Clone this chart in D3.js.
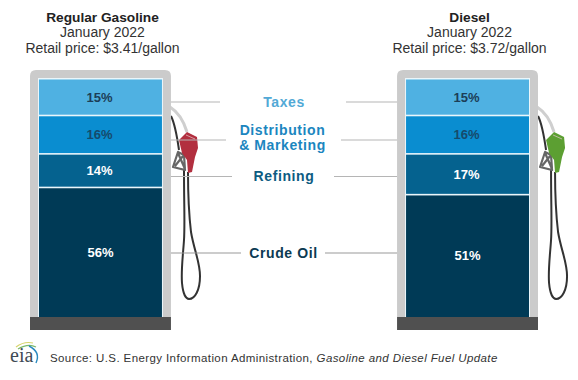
<!DOCTYPE html>
<html>
<head>
<meta charset="utf-8">
<script src="https://cdn.jsdelivr.net/npm/d3@7"></script>
<style>
  html, body { margin: 0; padding: 0; background: #fff; }
  svg { display: block; }
  text { font-family: "Liberation Sans", Arial, sans-serif; }
</style>
</head>
<body>
<svg id="chart"></svg>
<script>
const width = 578;
const height = 380;

// data
const components = ["Taxes", "Distribution", "Refining", "Crude Oil"];
const gasolineShares = [15, 16, 14, 56];
const dieselShares = [15, 16, 17, 51];
const pumpTitles = ["Regular Gasoline", "Diesel"];
const pumpPeriods = ["January 2022", "January 2022"];
const pumpPrices = ["Retail price: $3.41/gallon", "Retail price: $3.72/gallon"];
const calloutLines = [["Taxes"], ["Distribution", "& Marketing"], ["Refining"], ["Crude Oil"]];

const segmentColors = ["#4fb1e2", "#0a8dd0", "#05628f", "#003a56"];
const calloutColors = ["#52a9d6", "#1b86bf", "#0d5c82", "#0b3a52"];
const shareColors = ["#1c3e58", "#164a6c", "#fff", "#fff"];
const nozzleColors = ["#b22f3f", "#5c9f32"];

const svg = d3.select("#chart")
    .attr("width", width)
    .attr("height", height);

const rows = components.map((c, i) => ({ component: c, gasoline: gasolineShares[i], diesel: dieselShares[i] }));
const pumpKeys = ["gasoline", "diesel"];

// one pump per band, the column is stacked from the top down
const x = d3.scaleBand()
    .domain(pumpKeys)
    .range([30, 538])
    .paddingInner(0.616);

const y = d3.scaleLinear()
    .domain([0, 99])
    .range([79.5, 317])
    .clamp(true);

const color = d3.scaleOrdinal().domain(components).range(segmentColors);

const framePad = 9;

pumpKeys.forEach((key, p) => {
    const left = x(key);
    const g = svg.append("g");
    const cx = left + x.bandwidth() / 2;

    // heading
    g.append("text").attr("x", cx + 2).attr("y", 22).attr("text-anchor", "middle")
        .style("font-size", "13.7px").style("font-weight", "bold").attr("fill", "#222")
        .text(pumpTitles[p]);
    g.append("text").attr("x", cx + 2).attr("y", 37).attr("text-anchor", "middle")
        .style("font-size", "14px").attr("fill", "#333")
        .text(pumpPeriods[p]);
    g.append("text").attr("x", cx + 2).attr("y", 53).attr("text-anchor", "middle")
        .style("font-size", "14px").attr("fill", "#333")
        .text(pumpPrices[p]);

    // hose and nozzle sit behind the pump body
    const hose = g.append("g").attr("transform", `translate(${left - 30}, 0)`).attr("fill", "none");
    hose.append("path").attr("stroke", "#cfcfcf").attr("stroke-width", 3)
        .attr("d", "M170,107 C178,112 184,122 187,132");
    hose.append("path").attr("stroke", "#333").attr("stroke-width", 2)
        .attr("d", "M171,116 C175,124 177,136 179,150");
    hose.append("path").attr("stroke", "#333").attr("stroke-width", 2)
        .attr("d", "M184,170 C184,205 185,225 184,240 C183,255 181,270 182,283 C183,294 186,299 189,299 C195,299 200,290 200,276 C200,262 194,250 191,232 C189,215 188,195 188,172");
    hose.append("path").attr("stroke", "#666").attr("stroke-width", 2.2).attr("stroke-linejoin", "round")
        .attr("d", "M178,152 L173,167 L185,170 L184,155 Z M178,153 L185,169 M183,156 L175,166");
    hose.append("path").attr("fill", nozzleColors[p])
        .attr("d", "M187,132 L197,137 L198,148 L195,157 L192,172 L188,173 L187,160 L182,153 L179,140 L183,136 Z");
    hose.append("path").attr("stroke", "#e6c9cc").attr("stroke-width", 1).attr("opacity", 0.7)
        .attr("d", "M186,135 L195,139");

    // pump body
    g.append("path").attr("fill", "#cbcbcb")
        .attr("d", `M${left},317 V76 Q${left},70 ${left + 6},70 H${left + x.bandwidth() - 6} Q${left + x.bandwidth()},70 ${left + x.bandwidth()},76 V317 Z`);
    g.append("rect")
        .attr("x", left + framePad - 1).attr("y", y(0) - 1.5)
        .attr("width", x.bandwidth() - 2 * framePad + 2).attr("height", 317 - y(0) + 1.5)
        .attr("fill", "#eaf6fb");
    g.append("rect")
        .attr("x", left).attr("y", 317)
        .attr("width", x.bandwidth()).attr("height", 13)
        .attr("fill", "#505050");

    // segments
    let offset = 0;
    rows.forEach((row, i) => {
        const top = y(offset);
        const bottom = y(offset + row[key]);
        offset += row[key];
        g.append("rect")
            .attr("x", left + framePad)
            .attr("y", top + (i ? 0.8 : 0))
            .attr("width", x.bandwidth() - 2 * framePad)
            .attr("height", bottom - top - (i ? 0.8 : 0) - (i < 3 ? 0.8 : 0))
            .attr("fill", color(row.component));
        g.append("text")
            .attr("x", cx + (i === 3 ? 0 : -1))
            .attr("y", (top + bottom) / 2)
            .attr("dy", "0.35em")
            .attr("text-anchor", "middle")
            .style("font-size", "13px").style("font-weight", "bold")
            .attr("fill", shareColors[i])
            .text(row[key] + "%");
    });
});

// callouts in the middle
const calloutY = [102, 140, 176.5, 253];
const calloutTextX = [284, 282.5, 284, 283.5];
const calloutTextY = [102, 137.5, 176, 253];
const leaderLeftEnd = [220, 226, 232, 241];
const leaderRightStart = [346, 341, 334, 325];
const leftEdge = x("gasoline") + x.bandwidth();
const rightEdge = x("diesel");

calloutLines.forEach((lines, i) => {
    svg.append("line")
        .attr("x1", leftEdge).attr("x2", leaderLeftEnd[i])
        .attr("y1", calloutY[i]).attr("y2", calloutY[i])
        .attr("stroke", i === 3 ? "#999" : "#b5b5b5");
    svg.append("line")
        .attr("x1", leaderRightStart[i]).attr("x2", rightEdge)
        .attr("y1", calloutY[i]).attr("y2", calloutY[i])
        .attr("stroke", i === 3 ? "#999" : "#b5b5b5");
    lines.forEach((line, j) => {
        svg.append("text")
            .attr("x", calloutTextX[i])
            .attr("y", calloutTextY[i] + 5 + (j - (lines.length - 1) / 2) * 15)
            .attr("text-anchor", "middle")
            .style("font-size", "14px").style("font-weight", "bold")
            .style("letter-spacing", "0.6px")
            .attr("fill", calloutColors[i])
            .text(line);
    });
});

// eia mark and source line
const logo = svg.append("g");
logo.append("path").attr("fill", "none").attr("stroke", "#d8d46a").attr("stroke-width", 1.2)
    .attr("d", "M16,347 Q24,341 33,343");
logo.append("path").attr("fill", "none").attr("stroke", "#7bb86a").attr("stroke-width", 1.2)
    .attr("d", "M18,349 Q28,343 36,347");
logo.append("path").attr("fill", "none").attr("stroke", "#2a8ac0").attr("stroke-width", 1.4)
    .attr("d", "M29,346 Q41,352 36,363");
logo.append("text").attr("x", 10).attr("y", 362)
    .style("font-family", '"Liberation Serif", serif').style("font-size", "20px")
    .attr("fill", "#3f4a55").text("eia");

const source = svg.append("text").attr("x", 50).attr("y", 362)
    .style("font-size", "11.5px").style("letter-spacing", "0.4px").attr("fill", "#333");
source.append("tspan").text("Source: U.S. Energy Information Administration, ");
source.append("tspan").style("font-style", "italic").text("Gasoline and Diesel Fuel Update");
</script>
</body>
</html>
